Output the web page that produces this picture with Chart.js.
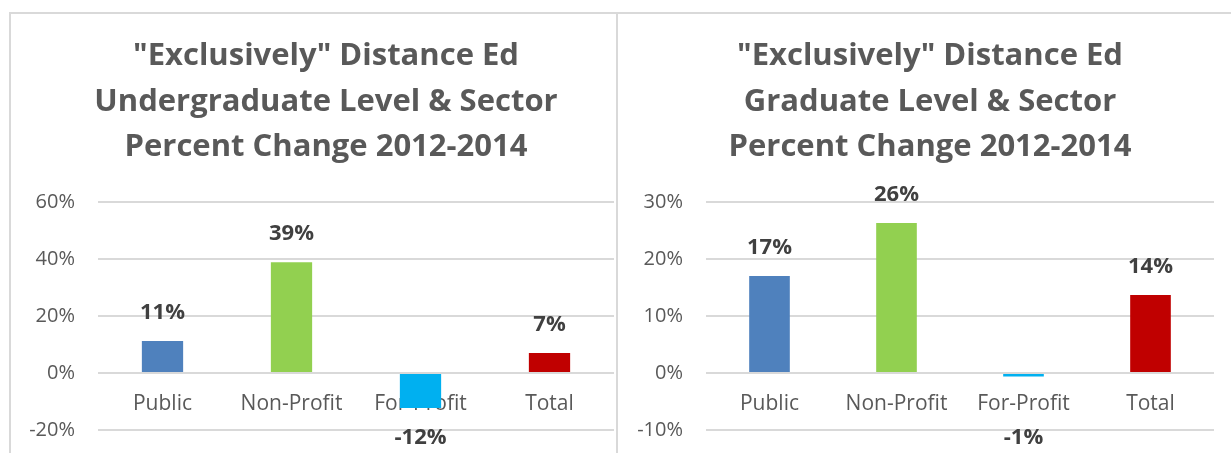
<!DOCTYPE html>
<html>
<head>
<meta charset="utf-8">
<script src="https://cdn.jsdelivr.net/npm/chart.js@4/dist/chart.umd.min.js"></script>
<style>
  html, body { margin: 0; padding: 0; background: #fff; }
  body { width: 1231px; height: 453px; overflow: hidden; position: relative; }
  .frame { position: absolute; left: 9px; top: 12px; width: 1240px; height: 460px;
           border-top: 2px solid #d9d9d9; border-left: 2px solid #d9d9d9; }
  .divider { position: absolute; left: 616px; top: 12px; width: 2px; height: 460px; background: #d9d9d9; }
  canvas { position: absolute; top: 14px; }
  #underChart { left: 14px; }
  #gradChart { left: 624px; }
</style>
</head>
<body>
<div class="frame"></div>
<div class="divider"></div>
<canvas id="underChart" width="600" height="439"></canvas>
<canvas id="gradChart" width="590" height="439"></canvas>
<script>
const categories = ["Public", "Non-Profit", "For-Profit", "Total"];
const barColors = ["#4F81BD", "#92D050", "#00B0F0", "#C00000"];

// percent change 2012-2014
const underValues = [11.2, 38.9, -12.3, 7.0];
const gradValues = [17.0, 26.3, -0.6, 13.7];

const underTicks = [-20, 0, 20, 40, 60];
const gradTicks = [-10, 0, 10, 20, 30];

const underTitle = ['"Exclusively" Distance Ed', "Undergraduate Level & Sector", "Percent Change 2012-2014"];
const gradTitle = ['"Exclusively" Distance Ed', "Graduate Level & Sector", "Percent Change 2012-2014"];

const FONT = "'Open Sans', 'Noto Sans', sans-serif";

// Excel centres the title a bit off the plot, so draw it by hand
const boxTitle = {
  id: "boxTitle",
  afterDraw(chart, args, opts) {
    const ctx = chart.ctx;
    ctx.save();
    ctx.font = "bold 31px " + FONT;
    ctx.fillStyle = "#595959";
    ctx.textAlign = "center";
    ctx.textBaseline = "alphabetic";
    opts.lines.forEach((t, i) => ctx.fillText(t, opts.cx, 51 + i * 45.5));
    ctx.restore();
  }
};

// bold value labels just outside the bar ends
const valueLabels = {
  id: "valueLabels",
  afterDatasetsDraw(chart) {
    const ctx = chart.ctx;
    const zeroY = chart.scales.y.getPixelForValue(0);
    const meta = chart.getDatasetMeta(0);
    const data = chart.data.datasets[0].data;
    ctx.save();
    ctx.font = "bold 22px " + FONT;
    ctx.fillStyle = "#404040";
    ctx.textAlign = "center";
    ctx.textBaseline = "middle";
    meta.data.forEach((bar, i) => {
      const v = data[i];
      let y;
      if (v >= 0) y = bar.y - 28;
      else y = Math.max(bar.y + 29, zeroY + 65);
      ctx.fillText(Math.round(v) + "%", bar.x, y);
    });
    ctx.restore();
  }
};

function makeChart(id, values, ticks, title, titleX, axisW) {
  const step = ticks[1] - ticks[0];
  return new Chart(document.getElementById(id), {
    type: "bar",
    data: {
      labels: categories,
      datasets: [{
        data: values,
        backgroundColor: barColors,
        barPercentage: 0.32,
        categoryPercentage: 1
      }]
    },
    options: {
      responsive: false,
      animation: false,
      layout: { padding: { left: 0, right: 0, top: 188, bottom: 23 } },
      plugins: {
        legend: { display: false },
        tooltip: { enabled: false },
        title: { display: false },
        boxTitle: { lines: title, cx: titleX }
      },
      scales: {
        x: {
          position: { y: 0 },
          grid: { display: false },
          border: { display: false },
          afterFit(s) { s.height = 0; s.paddingLeft = 0; s.paddingRight = 0; },
          ticks: { color: "#595959", font: { family: FONT, size: 21 }, padding: 10, maxRotation: 0 }
        },
        y: {
          min: ticks[0],
          max: ticks[ticks.length - 1],
          grid: { color: "#d9d9d9", lineWidth: 2, drawTicks: false },
          border: { display: false },
          afterFit(s) { s.width = axisW; s.paddingTop = 0; s.paddingBottom = 0; },
          ticks: {
            stepSize: step,
            color: "#595959",
            font: { family: FONT, size: 20 },
            padding: 23,
            callback: v => v + "%"
          }
        }
      }
    },
    plugins: [valueLabels, boxTitle]
  });
}

makeChart("underChart", underValues, underTicks, underTitle, 312, 84);
makeChart("gradChart", gradValues, gradTicks, gradTitle, 306, 82);
</script>
</body>
</html>
